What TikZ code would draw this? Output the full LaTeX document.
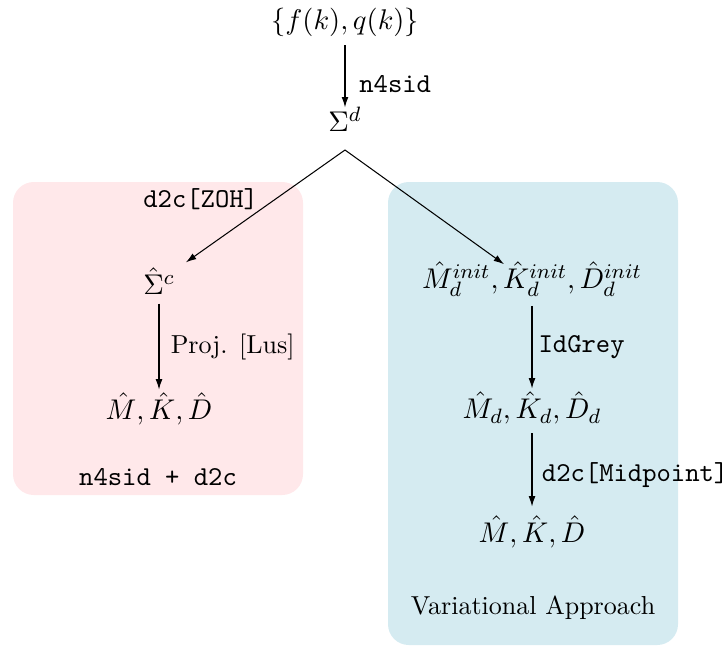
\documentclass[tikz,border=0pt]{standalone}
\usetikzlibrary{arrows.meta,calc}
\definecolor{pinkbg}{RGB}{255,232,234}
\definecolor{bluebg}{RGB}{213,235,241}
\begin{document}
\begin{tikzpicture}[x=0.3846pt,y=-0.3846pt,
  arr/.style={-{Latex[length=4pt,width=2.6pt]}},
  panel/.style={rounded corners=8pt},
  m/.style={font=\fontsize{11}{13.6}\selectfont},
  tt/.style={font=\fontsize{10.5}{12.6}\selectfont\ttfamily}]
\useasboundingbox (0,0) rectangle (726,648);
\fill[pinkbg,panel] (13,182) rectangle (303,495);
\fill[bluebg,panel] (388,182) rectangle (678,645);
\node[m] (fq) at (345,22) {$\{f(k),q(k)\}$};
\node[m] (sd) at (345,119) {$\Sigma^d$};
\node[m] (sc) at (159,281) {$\hat\Sigma^c$};
\node[m] (mkdl) at (159,409) {$\hat M,\hat K,\hat D$};
\node[m] (init) at (532,279) {$\hat M_d^{init},\hat K_d^{init},\hat D_d^{init}$};
\node[m] (mkdd) at (532,408) {$\hat M_d,\hat K_d,\hat D_d$};
\node[m] (mkdr) at (532,532) {$\hat M,\hat K,\hat D$};
\node[tt] (labl) at (158,477) {n4sid + d2c};
\node (labr) at (533,608) {Variational Approach};
\coordinate (apex) at (345,150);
\draw[arr] (fq.south) -- node[midway,right,tt,xshift=2pt,yshift=-3pt] {n4sid} ($(sd.north)+(0,10)$);
\draw[arr] (apex) -- node[pos=0.44,anchor=east,tt,xshift=-3pt] {d2c[ZOH]} ($(sc.north east)+(2,4)$);
\draw[arr] (apex) -- ($(init.north)+(-28,12)$);
\draw[arr] (sc.south) -- node[midway,right,xshift=1pt] {Proj. [Lus]} ($(mkdl.north)+(0,6)$);
\draw[arr] (init.south) -- node[midway,right,tt,xshift=-1pt] {IdGrey} ($(mkdd.north)+(0,6)$);
\draw[arr] (mkdd.south) -- node[midway,right,tt,xshift=0.3pt,yshift=-2pt] {d2c[Midpoint]} (mkdr.north);
\end{tikzpicture}
\end{document}
